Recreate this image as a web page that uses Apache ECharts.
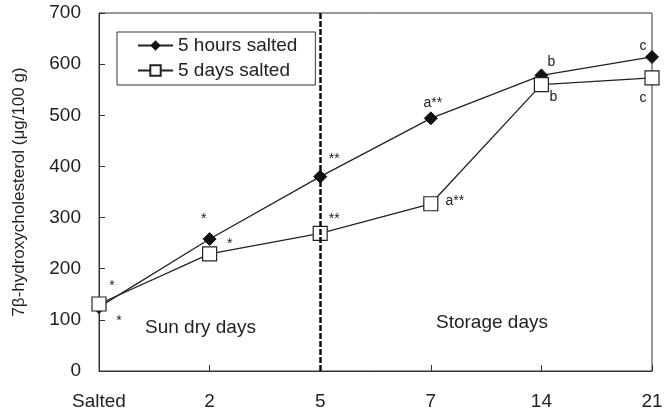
<!DOCTYPE html>
<html>
<head>
<meta charset="utf-8">
<script src="https://cdn.jsdelivr.net/npm/echarts@6/dist/echarts.min.js"></script>
<style>
  html, body { margin: 0; padding: 0; background: #fff; }
  #chart { width: 672px; height: 414px; }
</style>
</head>
<body>
<div id="chart"></div>
<script>
const days = ["Salted", "2", "5", "7", "14", "21"];
const hoursSalted = [125, 258, 380, 494, 578, 614];
const daysSalted = [131, 229, 269, 327, 560, 573];
const hoursNotes = ["*", "*", "**", "a**", "b", "c"];
const daysNotes = ["*", "*", "**", "a**", "b", "c"];

// where each note sits around its point, [dx, dy] in px
const hoursNoteOffsets = [[20, 14], [-6, -20], [14, -18], [2, -15], [10, -13], [-9, -11]];
const daysNoteOffsets = [[13, -18], [20, -10], [14, -14], [24, -3], [12, 13], [-9, 20]];

const font = "Liberation Sans, Arial, sans-serif";

const withNotes = (values, notes, offsets) => values.map((v, i) => ({
  value: v,
  label: {
    show: true,
    formatter: notes[i],
    position: "inside",
    offset: offsets[i],
    fontSize: 14,
    color: "#222",
    fontFamily: font
  }
}));

const chart = echarts.init(document.getElementById("chart"));

chart.setOption({
  animation: false,
  backgroundColor: "#fff",
  grid: {
    left: 99, right: 20, top: 13, bottom: 43,
    show: true, borderColor: "#333", borderWidth: 1
  },
  legend: {
    left: 117, top: 32,
    orient: "vertical",
    itemWidth: 35, itemHeight: 13, itemGap: 6,
    padding: [4, 18, 5, 20],
    borderColor: "#333", borderWidth: 1,
    textStyle: { fontSize: 19, color: "#222", fontFamily: font },
    data: ["5 hours salted", "5 days salted"]
  },
  xAxis: {
    type: "category",
    data: days,
    boundaryGap: false,
    axisLine: { lineStyle: { color: "#333" } },
    axisTick: { inside: true, length: 6, lineStyle: { color: "#333" } },
    axisLabel: { fontSize: 19, color: "#222", fontFamily: font, margin: 21 }
  },
  yAxis: {
    type: "value",
    min: 0, max: 700, interval: 100,
    name: "7β-hydroxycholesterol (μg/100 g)",
    nameLocation: "middle",
    nameGap: 71,
    nameTextStyle: { fontSize: 17, color: "#222", fontFamily: font },
    splitLine: { show: false },
    axisLine: { show: true, lineStyle: { color: "#333" } },
    axisTick: { show: true, inside: true, length: 6, lineStyle: { color: "#333" } },
    axisLabel: { fontSize: 19, color: "#222", fontFamily: font, margin: 18 }
  },
  graphic: [
    { type: "text", left: 145, top: 318, style: { text: "Sun dry days", fontSize: 19, fill: "#222", fontFamily: font } },
    { type: "text", left: 436, top: 313, style: { text: "Storage days", fontSize: 19, fill: "#222", fontFamily: font } }
  ],
  series: [
    {
      name: "5 days salted",
      type: "line",
      data: withNotes(daysSalted, daysNotes, daysNoteOffsets),
      symbol: "rect",
      symbolSize: 14,
      z: 3,
      lineStyle: { color: "#222", width: 1.3 },
      itemStyle: { color: "#fff", borderColor: "#222", borderWidth: 1.2 },
      markLine: {
        silent: true,
        symbol: "none",
        label: { show: false },
        lineStyle: { color: "#111", type: [6, 2], width: 2.5 },
        data: [{ xAxis: "5" }]
      }
    },
    {
      name: "5 hours salted",
      type: "line",
      data: withNotes(hoursSalted, hoursNotes, hoursNoteOffsets),
      symbol: "diamond",
      symbolSize: 13,
      z: 2,
      lineStyle: { color: "#222", width: 1.3 },
      itemStyle: { color: "#111", borderColor: "#111" }
    }
  ]
});
</script>
</body>
</html>
